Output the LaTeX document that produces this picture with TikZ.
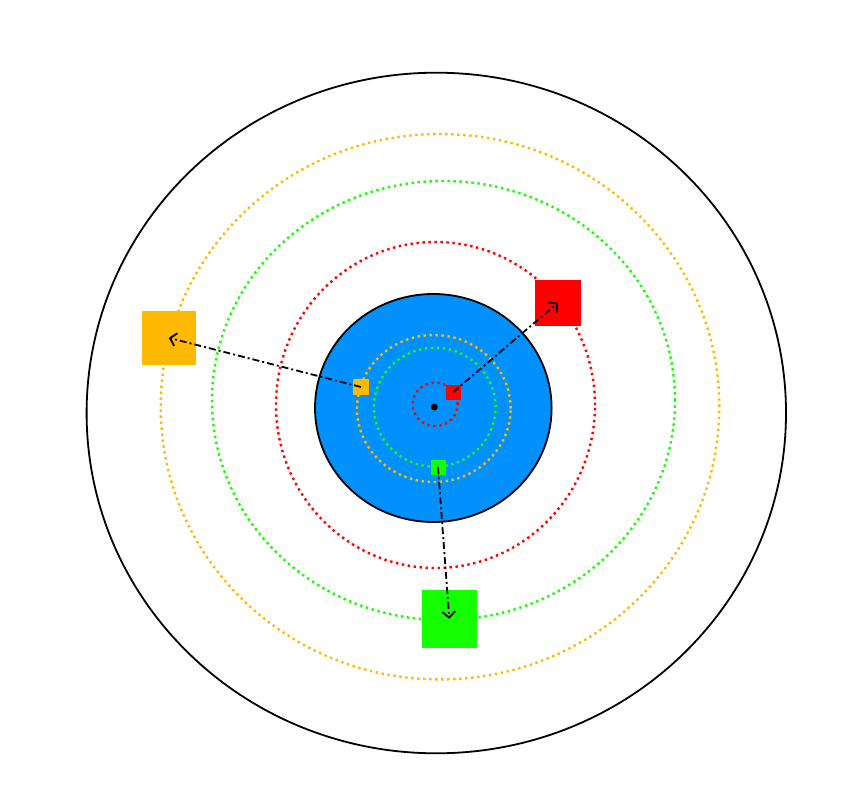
\documentclass[tikz,border=0pt]{standalone}
\usetikzlibrary{arrows.meta}
\definecolor{orbitorange}{RGB}{255,185,0}
\definecolor{orbitgreen}{RGB}{20,255,0}
\definecolor{orbitred}{RGB}{255,0,0}
\definecolor{coreblue}{RGB}{0,145,255}
\begin{document}
\begin{tikzpicture}[x=0.5pt,y=0.5pt,
    orbit/.style={line width=1.2pt,dash pattern=on 1.2pt off 1.8pt},
    blob/.style={fill=#1,draw=none,inner sep=0pt,outer sep=0pt},
    jump/.style={line width=0.9pt,dash pattern=on 3.5pt off 1.5pt on 1pt off 1.5pt,
                 -{Straight Barb[length=3pt,width=6.5pt]}}]
    \useasboundingbox (0,0) rectangle (855,810);
    \draw[line width=0.9pt] (436.3,397) ellipse [x radius=349.7,y radius=340.3];
    \draw[orbit,orbitorange] (440,403.3) ellipse [x radius=279.3,y radius=272.7];
    \draw[orbit,orbitgreen] (443.5,409.5) ellipse [x radius=231.5,y radius=219.5];
    \draw[orbit,orbitred] (435.5,405) ellipse [x radius=159.5,y radius=163];
    \draw[line width=0.9pt,fill=coreblue] (433.3,402) ellipse [x radius=118.3,y radius=114];
    \draw[orbit,orbitorange] (433.8,401.5) ellipse [x radius=76.8,y radius=73.5];
    \draw[orbit,orbitgreen] (434.8,402.8) ellipse [x radius=60.8,y radius=59.5];
    \draw[orbit,orbitred] (435.2,405.7) ellipse [x radius=22.5,y radius=21.7];
    \fill (434.3,403) circle [radius=3.5];
    % squares
    \node[blob=orbitorange,minimum size=8pt] (osmall) at (361,423) {};
    \node[blob=orbitred,minimum size=7.5pt] (rsmall) at (453.3,418) {};
    \node[blob=orbitgreen,minimum size=7.5pt] (gsmall) at (438,342.7) {};
    \node[blob=orbitorange,minimum size=27pt] (obig) at (168.8,472.2) {};
    \node[blob=orbitred,minimum size=23pt] (rbig) at (558,507.3) {};
    \node[blob=orbitgreen,minimum width=27.5pt,minimum height=29pt] (gbig) at (449.3,191.2) {};
    % jumps
    \draw[jump] (osmall.center) -- (obig.center);
    \draw[jump] (rsmall.center) -- (rbig.center);
    \draw[jump] (gsmall.center) -- (gbig.center);
\end{tikzpicture}
\end{document}
